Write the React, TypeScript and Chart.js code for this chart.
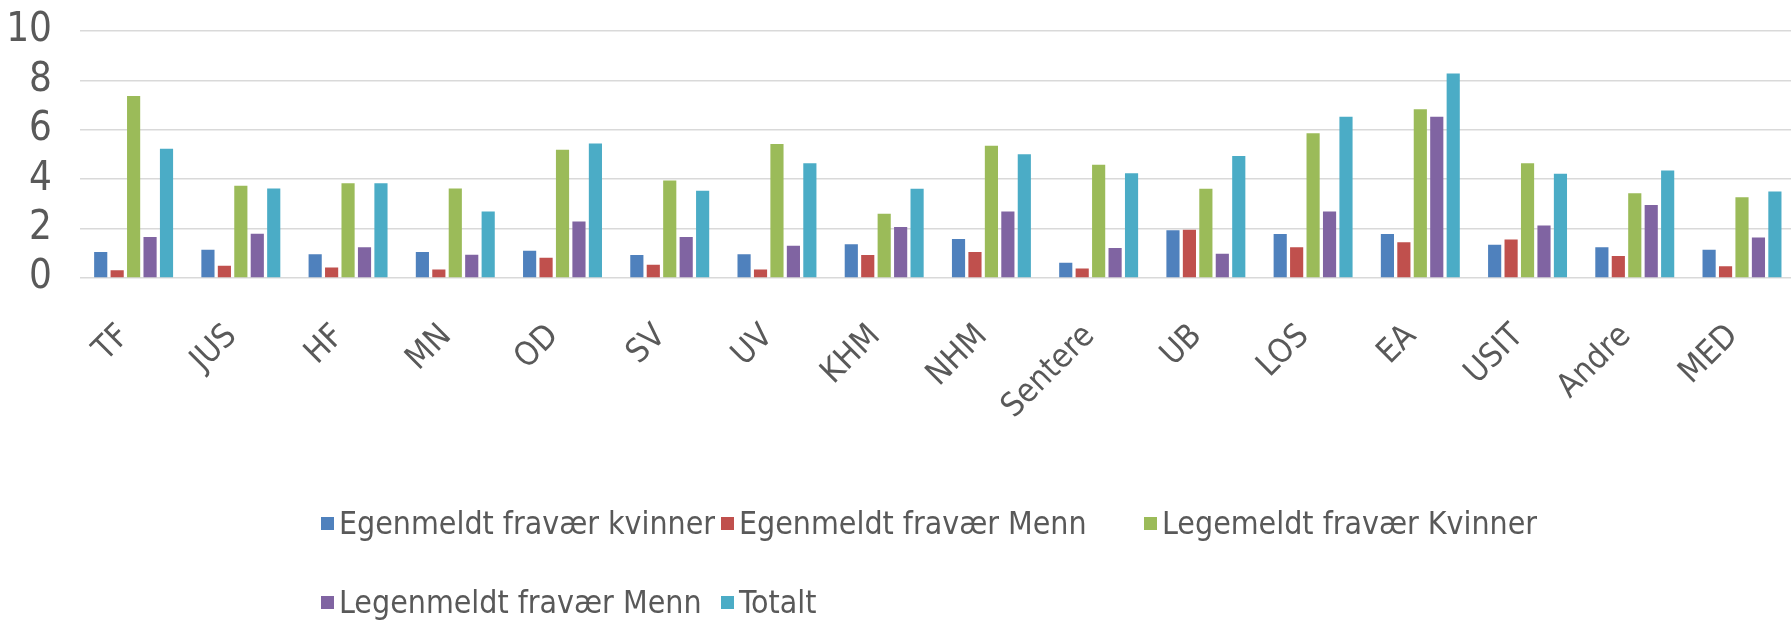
import React, { useEffect, useRef } from "react";
import { Chart, registerables } from "chart.js";

Chart.register(...registerables);

const categories = ["TF", "JUS", "HF", "MN", "OD", "SV", "UV", "KHM", "NHM", "Sentere", "UB", "LOS", "EA", "USIT", "Andre", "MED"];

const egenKvinner = [1.05, 1.14, 0.96, 1.05, 1.1, 0.93, 0.96, 1.37, 1.58, 0.62, 1.93, 1.78, 1.78, 1.35, 1.24, 1.14];
const egenMenn = [0.31, 0.5, 0.43, 0.34, 0.82, 0.54, 0.34, 0.93, 1.05, 0.38, 1.95, 1.25, 1.45, 1.56, 0.89, 0.48];
const legeKvinner = [7.37, 3.73, 3.84, 3.62, 5.19, 3.95, 5.43, 2.6, 5.35, 4.58, 3.61, 5.86, 6.83, 4.65, 3.43, 3.27];
const legeMenn = [1.66, 1.79, 1.25, 0.94, 2.29, 1.66, 1.31, 2.06, 2.69, 1.21, 0.98, 2.69, 6.53, 2.13, 2.96, 1.64];
const totalt = [5.23, 3.62, 3.84, 2.69, 5.45, 3.53, 4.65, 3.61, 5.01, 4.24, 4.94, 6.53, 8.28, 4.22, 4.35, 3.5];

const seriesNames = ["Egenmeldt fravær kvinner", "Egenmeldt fravær Menn", "Legemeldt fravær Kvinner", "Legenmeldt fravær Menn", "Totalt"];
const seriesColors = ["#4F81BD", "#C0504D", "#9BBB59", "#8064A2", "#4BACC6"];
const yTicks = [0, 2, 4, 6, 8, 10];

const FONT = "'DejaVu Sans Condensed', sans-serif";
const TEXT = "#595959";

export default function App() {
  const ref = useRef<HTMLCanvasElement | null>(null);

  useEffect(() => {
    document.body.style.margin = "0";
    document.body.style.overflow = "hidden";
    const canvas = ref.current;
    if (!canvas) return;
    const values = [egenKvinner, egenMenn, legeKvinner, legeMenn, totalt];
    const chart = new Chart(canvas, {
      type: "bar",
      data: {
        labels: categories,
        datasets: values.map((v, i) => ({
          label: seriesNames[i],
          data: v,
          backgroundColor: seriesColors[i],
          borderWidth: 0,
          categoryPercentage: 0.767,
          barPercentage: 0.8,
        })),
      },
      options: {
        animation: false,
        responsive: false,
        maintainAspectRatio: false,
        layout: { padding: { top: 31, left: 0, right: 0, bottom: 0 } },
        plugins: {
          legend: { display: false },
          tooltip: { enabled: false },
          title: { display: false },
        },
        scales: {
          x: {
            offset: true,
            grid: { display: false },
            border: { display: false },
            afterFit: (s: any) => {
              s.height = 343;
            },
            ticks: {
              autoSkip: false,
              minRotation: 45,
              maxRotation: 45,
              padding: 31,
              labelOffset: -9,
              color: TEXT,
              font: { family: FONT, size: 33 },
            },
          },
          y: {
            min: 0,
            max: 10,
            afterFit: (s: any) => {
              s.width = 80;
            },
            afterBuildTicks: (s: any) => {
              s.ticks = yTicks.map((v) => ({ value: v }));
            },
            grid: {
              color: "#D9D9D9",
              lineWidth: 1.5,
              drawTicks: true,
              tickLength: 28,
              tickColor: "rgba(0,0,0,0)",
            },
            border: { display: false },
            ticks: {
              autoSkip: false,
              stepSize: 2,
              padding: 0,
              color: TEXT,
              font: { family: FONT, size: 40 },
            },
          },
        },
      },
    });
    return () => chart.destroy();
  }, []);

  const legendCols = [321, 721, 1144];
  const rows = [
    [0, 1, 2],
    [3, 4],
  ];
  const rowY = [523, 602];

  return (
    <div style={{ position: "relative", width: 1791, height: 621, overflow: "hidden", background: "#fff" }}>
      <canvas ref={ref} width={1801} height={621} style={{ position: "absolute", left: 0, top: 0, width: 1801, height: 621 }} />
      {rows.map((row, r) =>
        row.map((si, c) => (
          <div
            key={si}
            style={{
              position: "absolute",
              left: legendCols[c],
              top: rowY[r] - 22,
              height: 44,
              display: "flex",
              alignItems: "center",
              fontFamily: FONT,
              fontSize: 31.8,
              color: TEXT,
              whiteSpace: "nowrap",
              lineHeight: "44px",
            }}
          >
            <span style={{ display: "inline-block", width: 13, height: 13, background: seriesColors[si], marginRight: 5 }} />
            <span>{seriesNames[si]}</span>
          </div>
        ))
      )}
    </div>
  );
}
